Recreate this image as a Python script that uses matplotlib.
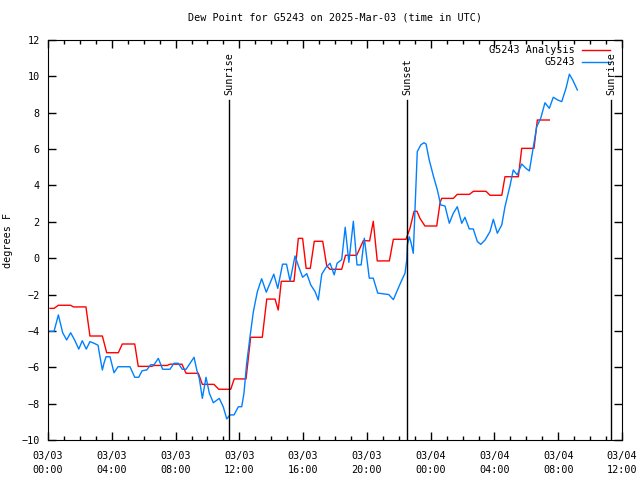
import numpy as np
import pandas as pd
import matplotlib
matplotlib.use("Agg")
import matplotlib.pyplot as plt
import matplotlib.dates as mdates

# hours since 2025-03-03 00:00 UTC, dew point in degrees F
analysis_hours = [0.13, 0.38, 0.65, 1.42, 1.59, 2.38, 2.63, 3.41, 3.68, 4.41, 4.66, 5.44,
                  5.66, 6.50, 6.65, 7.48, 7.65, 8.40, 8.66, 9.43, 9.68, 10.41, 10.71, 11.46,
                  11.68, 12.42, 12.71, 13.44, 13.72, 14.24, 14.44, 14.63, 15.43, 15.70, 15.97,
                  16.19, 16.45, 16.70, 17.23, 17.48, 17.69, 18.42, 18.66, 19.36, 19.78, 20.17,
                  20.40, 20.65, 21.41, 21.66, 22.45, 22.70, 22.96, 23.14, 23.33, 23.64, 24.38,
                  24.59, 24.69, 25.42, 25.67, 26.43, 26.68, 27.47, 27.72, 28.46, 28.66, 29.50,
                  29.71, 30.48, 30.69, 31.44]
analysis_vals = [-2.76, -2.76, -2.59, -2.59, -2.68, -2.68, -4.28, -4.28, -5.20, -5.20, -4.72, -4.72,
                 -5.95, -5.95, -5.90, -5.90, -5.83, -5.83, -6.33, -6.33, -6.94, -6.94, -7.21, -7.21,
                 -6.64, -6.64, -4.35, -4.35, -2.25, -2.25, -2.85, -1.27, -1.27, 1.09, 1.09,
                 -0.56, -0.56, 0.93, 0.93, -0.42, -0.61, -0.61, 0.16, 0.16, 0.97, 0.95,
                 2.03, -0.15, -0.15, 1.04, 1.04, 1.64, 2.58, 2.58, 2.19, 1.77, 1.77,
                 3.05, 3.29, 3.29, 3.51, 3.51, 3.68, 3.68, 3.46, 3.46, 4.48, 4.48,
                 6.04, 6.04, 7.60, 7.60]

obs_hours = [0.13, 0.38, 0.65, 0.92, 1.17, 1.42, 1.67, 1.93, 2.15, 2.40, 2.63, 2.89, 3.14, 3.26,
             3.41, 3.51, 3.64, 3.89, 4.14, 4.39, 5.14, 5.44, 5.69, 5.90, 6.19, 6.44, 6.65, 6.92,
             7.19, 7.65, 7.90, 8.17, 8.42, 8.66, 9.16, 9.33, 9.49, 9.68, 9.91, 10.12, 10.37,
             10.74, 10.99, 11.21, 11.41, 11.67, 11.94, 12.15, 12.29, 12.46, 12.67, 12.88, 13.13,
             13.40, 13.69, 14.16, 14.41, 14.71, 14.96, 15.18, 15.49, 15.76, 15.97, 16.23, 16.48,
             16.75, 16.95, 17.17, 17.44, 17.69, 17.95, 18.13, 18.42, 18.64, 18.87, 19.15, 19.38,
             19.64, 19.84, 20.15, 20.40, 20.68, 21.37, 21.66, 22.14, 22.39, 22.50, 22.54, 22.66,
             22.77, 22.91, 23.06, 23.16, 23.38, 23.58, 23.71, 23.91, 24.17, 24.42, 24.63, 24.90,
             25.17, 25.42, 25.67, 25.95, 26.15, 26.42, 26.67, 26.93, 27.14, 27.41, 27.72, 27.93,
             28.18, 28.46, 28.66, 28.98, 29.18, 29.43, 29.71, 29.98, 30.19, 30.44, 30.65, 30.90,
             31.17, 31.44, 31.69, 31.97, 32.22, 32.49, 32.70, 32.91, 33.20]
obs_vals = [-4.02, -4.02, -3.12, -4.10, -4.50, -4.10, -4.50, -5.00, -4.54, -5.00, -4.59, -4.68, -4.79, -5.42,
            -6.15, -5.78, -5.42, -5.42, -6.30, -5.97, -5.97, -6.55, -6.55, -6.19, -6.15, -5.86, -5.86, -5.51,
            -6.11, -6.11, -5.78, -5.78, -6.11, -6.11, -5.45, -6.15, -6.61, -7.71, -6.55, -7.43, -7.95,
            -7.71, -8.17, -8.84, -8.62, -8.62, -8.17, -8.17, -7.43, -5.78, -4.32, -2.94, -1.84,
            -1.13, -1.87, -0.88, -1.66, -0.33, -0.33, -1.26, 0.12, -0.56, -1.05, -0.85, -1.47,
            -1.84, -2.30, -0.88, -0.50, -0.28, -0.92, -0.28, -0.08, 1.70, -0.23, 2.03, -0.37,
            -0.37, 1.10, -1.10, -1.10, -1.92, -2.00, -2.28, -1.30, -0.83, -0.10, 0.73, 1.18,
            0.85, 0.27, 3.66, 5.86, 6.23, 6.35, 6.28, 5.40, 4.52, 3.75, 2.93, 2.87,
            1.92, 2.47, 2.83, 1.92, 2.25, 1.61, 1.61, 0.91, 0.76, 1.00, 1.46, 2.14,
            1.37, 1.83, 2.83, 4.00, 4.85, 4.58, 5.18, 4.94, 4.80, 6.13, 7.23, 7.69,
            8.55, 8.24, 8.85, 8.70, 8.61, 9.35, 10.12, 9.80, 9.25]

sun_hours = [11.35, 22.52, 35.34]
sun_labels = ["Sunrise", "Sunset", "Sunrise"]

series_labels = ["G5243 Analysis", "G5243"]
series_colors = ["#ff0000", "#0080ff"]

start = pd.Timestamp("2025-03-03 00:00")
def to_time(hours):
    return [start + pd.Timedelta(hours=h) for h in hours]

fs = 7.3
plt.rcParams["font.family"] = "DejaVu Sans Mono"
plt.rcParams["font.size"] = fs

fig = plt.figure(figsize=(6.4, 4.8), dpi=100)
ax = fig.add_axes([48 / 640, 40 / 480, 574 / 640, 400 / 480])

ax.plot(to_time(analysis_hours), analysis_vals, color=series_colors[0], lw=1)
ax.plot(to_time(obs_hours), obs_vals, color=series_colors[1], lw=1)

for h, lab in zip(sun_hours, sun_labels):
    t = start + pd.Timedelta(hours=h)
    ax.plot([t, t], [-10, 8.7], color="black", lw=1)
    ax.text(t, 9.0, lab, rotation=90, ha="center", va="bottom", fontsize=fs)

# gnuplot-style key: right-aligned text, sample line after it
for i, (lab, col) in enumerate(zip(series_labels, series_colors)):
    yk = 1 - (10 + 12 * i) / 400
    ax.text(527 / 574, yk, lab, transform=ax.transAxes, ha="right", va="center", fontsize=fs)
    ax.plot([534 / 574, 562 / 574], [yk, yk], transform=ax.transAxes, color=col, lw=1)

ax.set_xlim(start, start + pd.Timedelta(hours=36))
ax.set_ylim(-10, 12)
ax.set_yticks(np.arange(-10, 13, 2))
ax.xaxis.set_major_locator(mdates.HourLocator(byhour=[0, 4, 8, 12, 16, 20]))
ax.xaxis.set_minor_locator(mdates.HourLocator())
ax.xaxis.set_major_formatter(mdates.DateFormatter("%m/%d\n%H:%M"))
ax.tick_params(which="both", direction="in", top=True, right=True)
ax.tick_params(which="major", length=6, width=1)
ax.tick_params(which="minor", length=3, width=1)
ax.tick_params(axis="x", pad=8)
ax.tick_params(axis="y", pad=6)
for lbl in ax.get_xticklabels():
    lbl.set_linespacing(1.5)

ax.set_ylabel("degrees F", labelpad=6)
ax.set_title("Dew Point for G5243 on 2025-Mar-03 (time in UTC)", fontsize=fs, pad=14)

fig.savefig("out.png", dpi=100)
